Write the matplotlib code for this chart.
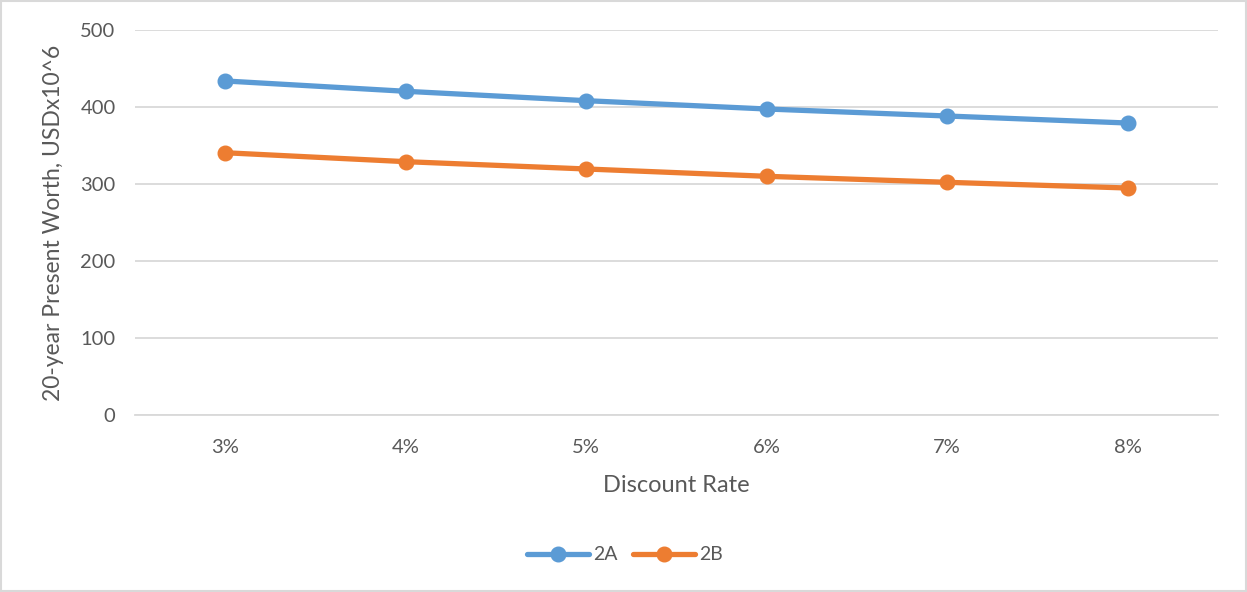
import matplotlib
matplotlib.use("Agg")
import matplotlib.pyplot as plt
from matplotlib.patches import Rectangle

# data
rates = ["3%", "4%", "5%", "6%", "7%", "8%"]
pw_2a = [433.8, 420.4, 408.2, 397.4, 388.3, 379.2]
pw_2b = [340.6, 329.0, 319.5, 310.0, 302.2, 294.8]
y_ticks = [0, 100, 200, 300, 400, 500]

plt.rcParams['font.family'] = ['Lato', 'DejaVu Sans']
txt = '#595959'

fig = plt.figure(figsize=(12.47, 5.92), dpi=100)
W, H = 1247, 592
ax = fig.add_axes([135 / W, 1 - 415 / H, (1218 - 135) / W, (415 - 30) / H])

x = list(range(len(rates)))
ax.plot(x, pw_2a, color='#5B9BD5', lw=3.8, marker='o', ms=10.5, label='2A',
        solid_capstyle='round')
ax.plot(x, pw_2b, color='#ED7D31', lw=3.8, marker='o', ms=10.5, label='2B',
        solid_capstyle='round')

ax.set_xlim(-0.5, len(rates) - 0.5)
ax.set_ylim(0, 500)
ax.set_yticks(y_ticks)
ax.set_xticks(x)
ax.set_xticklabels(rates)
ax.grid(axis='y', color='#D9D9D9', lw=1.3)
ax.set_axisbelow(True)
for s in ['top', 'right', 'left']:
    ax.spines[s].set_visible(False)
ax.spines['bottom'].set_color('#D9D9D9')
ax.spines['bottom'].set_linewidth(1.3)
ax.tick_params(axis='both', length=0, labelsize=14.5, colors=txt)
ax.tick_params(axis='x', pad=17)
ax.tick_params(axis='y', pad=14)

ax.set_xlabel('Discount Rate', fontsize=17, color=txt, labelpad=14)
ax.set_ylabel('20-year Present Worth, USDx10^6', fontsize=16.5, color=txt, labelpad=12)

leg = fig.legend(loc='center', bbox_to_anchor=(625 / W, 1 - 555 / H), ncol=2,
                 frameon=False, fontsize=14, handlelength=3.2, columnspacing=0.8,
                 handletextpad=0.2)
for t in leg.get_texts():
    t.set_color(txt)

fig.patches.append(Rectangle((0.001, 0.001), 0.998, 0.998, transform=fig.transFigure,
                             fill=False, edgecolor='#D9D9D9', lw=1.5))

fig.savefig('out.png', dpi=100)
